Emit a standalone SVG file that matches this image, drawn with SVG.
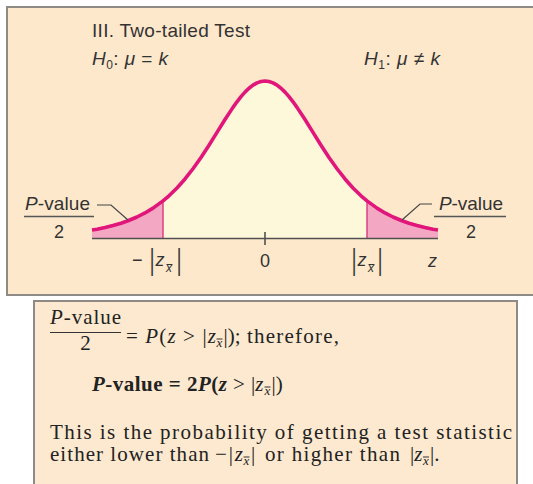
<svg xmlns="http://www.w3.org/2000/svg" width="533" height="484" viewBox="0 0 533 484">
<style>
.sans{font-family:"Liberation Sans",Arial,sans-serif;fill:#333}
.serif{font-family:"Liberation Serif","Times New Roman",serif;fill:#222}
.it{font-style:italic}
.bar{stroke:#555;stroke-width:1.3;fill:none}
.ov{stroke:#333;stroke-width:1;fill:none}
.sub{font-size:13px;font-style:italic}
</style>
<rect width="533" height="484" fill="#fff"/>
<g id="panel-top">
<rect x="7" y="7" width="540" height="288" fill="#fde8cc" stroke="#8e8a86" stroke-width="2"/>
</g>
<g id="title">
<text class="sans" x="92" y="37" font-size="19" textLength="158">III. Two-tailed Test</text>
<text class="sans" x="92" y="65" font-size="19" textLength="76"><tspan class="it">H</tspan><tspan font-size="12" dy="4">0</tspan><tspan dy="-4">: </tspan><tspan class="it">μ</tspan> = <tspan class="it">k</tspan></text>
<text class="sans" x="364" y="65" font-size="19" textLength="76"><tspan class="it">H</tspan><tspan font-size="12" dy="4">1</tspan><tspan dy="-4">: </tspan><tspan class="it">μ</tspan> ≠ <tspan class="it">k</tspan></text>
</g>
<g id="curve">
<polygon fill="#fef8da" points="163,238.5 163,200.88 169,195.76 177,187.95 185,178.95 193,168.76 201,157.45 209,145.22 217,132.41 225,119.57 233,107.38 237,101.79 241,96.67 245,92.12 249,88.25 253,85.14 257,82.86 261,81.47 265,81 269,81.47 273,82.86 277,85.14 281,88.25 285,92.12 289,96.67 293,101.79 297,107.38 305,119.57 313,132.41 321,145.22 329,157.45 337,168.76 345,178.95 353,187.95 361,195.76 367,200.88 367,238.5"/>
<polygon fill="#f3a7c2" points="92,238.5 92,230.06 97,229.17 105,227.53 113,225.56 121,223.2 128,220.76 137,217 145,212.96 153,208.15 163,200.88 163,238.5"/>
<polygon fill="#f3a7c2" points="367,238.5 367,200.88 377,208.15 385,212.96 393,217 402,220.76 409,223.2 417,225.56 425,227.53 433,229.17 438,230.06 438,238.5"/>
<line x1="163" y1="201" x2="163" y2="238.5" stroke="#d63a7c" stroke-width="1.4"/>
<line x1="367" y1="201" x2="367" y2="238.5" stroke="#d63a7c" stroke-width="1.4"/>
<line x1="92" y1="238.5" x2="438" y2="238.5" stroke="#505050" stroke-width="1.6"/>
<line x1="265" y1="232" x2="265" y2="245" stroke="#505050" stroke-width="1.6"/>
<polyline fill="none" stroke="#e0167b" stroke-width="3.6" stroke-linejoin="round" points="92,230.06 97,229.17 105,227.53 113,225.56 121,223.2 128,220.76 137,217 145,212.96 153,208.15 163,200.88 169,195.76 177,187.95 185,178.95 193,168.76 201,157.45 209,145.22 217,132.41 225,119.57 233,107.38 237,101.79 241,96.67 245,92.12 249,88.25 253,85.14 257,82.86 261,81.47 265,81 269,81.47 273,82.86 277,85.14 281,88.25 285,92.12 289,96.67 293,101.79 297,107.38 305,119.57 313,132.41 321,145.22 329,157.45 337,168.76 345,178.95 353,187.95 361,195.76 367,200.88 377,208.15 385,212.96 393,217 402,220.76 409,223.2 417,225.56 425,227.53 433,229.17 438,230.06"/>
</g>
<g id="axis-labels" class="sans" font-size="18">
<text x="132" y="266">−</text>
<text transform="translate(152,270) scale(1,1.6)" text-anchor="middle">|</text>
<text class="it" x="155.5" y="266">z</text>
<text class="it" x="166" y="272" font-size="12">x</text>
<line class="ov" x1="166.5" y1="264.5" x2="172.5" y2="264.5"/>
<text transform="translate(179,270) scale(1,1.6)" text-anchor="middle">|</text>
<text x="265" y="267" text-anchor="middle">0</text>
<text transform="translate(354,270) scale(1,1.6)" text-anchor="middle">|</text>
<text class="it" x="357.5" y="266">z</text>
<text class="it" x="368" y="272" font-size="12">x</text>
<line class="ov" x1="368.5" y1="264.5" x2="374.5" y2="264.5"/>
<text transform="translate(380,270) scale(1,1.6)" text-anchor="middle">|</text>
<text class="it" x="428" y="267">z</text>
</g>
<g id="pvalue-left">
<text class="sans" x="25" y="210" font-size="19" textLength="65"><tspan class="it">P</tspan>-value</text>
<line class="bar" x1="24" y1="216.5" x2="94" y2="216.5"/>
<text class="sans" x="59" y="238" font-size="18" text-anchor="middle">2</text>
</g>
<g id="pvalue-right">
<text class="sans" x="439" y="210" font-size="19" textLength="64"><tspan class="it">P</tspan>-value</text>
<line class="bar" x1="434" y1="216.5" x2="506" y2="216.5"/>
<text class="sans" x="471" y="238" font-size="18" text-anchor="middle">2</text>
</g>
<g id="connectors" fill="none" stroke="#444" stroke-width="1.2">
<path d="M97,205 H111 L128,220"/>
<path d="M432,204 H420 L402,220"/>
</g>
<g id="panel-bottom">
<rect x="34" y="301" width="483" height="200" fill="#fce9cf" stroke="#8e8a86" stroke-width="2"/>
</g>
<g id="formula" class="serif" font-size="21">
<text x="50" y="324" textLength="71"><tspan class="it">P</tspan>-value</text>
<line x1="50" y1="332.5" x2="121" y2="332.5" stroke="#333" stroke-width="1.2"/>
<text x="85.5" y="350" text-anchor="middle">2</text>
<text x="126" y="343" textLength="90">= <tspan class="it">P</tspan>(<tspan class="it">z</tspan> &gt; |<tspan class="it">z</tspan></text>
<text class="sub" x="216.5" y="347">x</text>
<line class="ov" x1="216.5" y1="339" x2="222.5" y2="339"/>
<text x="223.5" y="343">|);</text>
<text x="247" y="343" textLength="92">therefore,</text>
<text x="92" y="391" font-weight="bold" textLength="135"><tspan class="it">P</tspan>-value = 2<tspan class="it">P</tspan>(<tspan class="it">z</tspan></text>
<text x="233" y="391">&gt;</text>
<text x="251" y="391">|<tspan class="it">z</tspan></text>
<text class="sub" x="264.5" y="395">x</text>
<line class="ov" x1="264.5" y1="387" x2="270.5" y2="387"/>
<text x="271.5" y="391">|)</text>
<text x="50" y="439" textLength="462">This is the probability of getting a test statistic</text>
<text x="50" y="461" textLength="159">either lower than</text>
<text x="215" y="461" textLength="28">−|<tspan class="it">z</tspan></text>
<text class="sub" x="243.5" y="465">x</text>
<line class="ov" x1="243.5" y1="457" x2="249.5" y2="457"/>
<text x="251" y="461">|</text>
<text x="265" y="461" textLength="135">or higher than</text>
<text x="410" y="461">|<tspan class="it">z</tspan></text>
<text class="sub" x="423" y="465">x</text>
<line class="ov" x1="423" y1="457" x2="429" y2="457"/>
<text x="430" y="461">|.</text>
</g>
</svg>
